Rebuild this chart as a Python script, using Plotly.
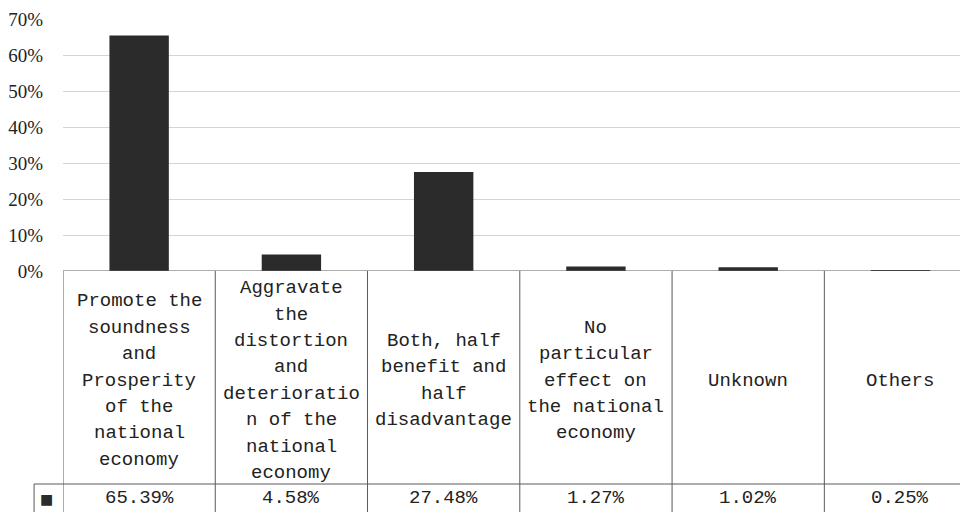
import plotly.graph_objects as go

categories = [
    "Promote the<br>soundness<br>and<br>Prosperity<br>of the<br>national<br>economy",
    "Aggravate<br>the<br>distortion<br>and<br>deterioratio<br>n of the<br>national<br>economy",
    "Both, half<br>benefit and<br>half<br>disadvantage",
    "No<br>particular<br>effect on<br>the national<br>economy",
    "Unknown",
    "Others",
]
values = [65.39, 4.58, 27.48, 1.27, 1.02, 0.25]
value_labels = ["65.39%", "4.58%", "27.48%", "1.27%", "1.02%", "0.25%"]
y_ticks = [0, 10, 20, 30, 40, 50, 60, 70]
y_tick_labels = ["0%", "10%", "20%", "30%", "40%", "50%", "60%", "70%"]

BAR = "#2b2b2b"
LINE = "#5a5a5a"
OFF = 8  # page body margin
W, H = 968, 512
ML, MT = 61 - OFF, 19 - OFF
BOTTOM = 271 - OFF
MB = H - BOTTOM
plot_h = H - MT - MB
plot_w = W - ML
col_w = 152.6
n = len(values)
x_idx = list(range(n))


def py(pix):
    # reference page pixel -> paper y
    return (BOTTOM - (pix - OFF)) / plot_h


def px(pix):
    return (pix - OFF - ML) / plot_w


fig = go.Figure()
fig.add_trace(go.Bar(x=x_idx, y=values, marker=dict(color=BAR, line=dict(width=0)),
                     width=0.39, hoverinfo="skip"))

shapes = []
shapes.append(dict(type="line", xref="paper", yref="y", x0=0, x1=1.02, y0=0, y1=0,
                   line=dict(color=LINE, width=1)))
for i in range(n + 1):
    shapes.append(dict(type="line", xref="x", yref="paper", x0=i - 0.5, x1=i - 0.5,
                       y0=0, y1=py(530), line=dict(color=LINE, width=1)))
shapes.append(dict(type="line", xref="paper", yref="paper", x0=px(32), x1=1.02,
                   y0=py(484), y1=py(484), line=dict(color=LINE, width=1)))
shapes.append(dict(type="line", xref="paper", yref="paper", x0=px(32), x1=px(32),
                   y0=py(484), y1=py(530), line=dict(color=LINE, width=1)))

TXT = dict(family="Liberation Mono", size=19, color="#222222")
LINE_H = 26.4
CENTER = 380.5
annotations = []
for i, (c, v) in enumerate(zip(categories, value_labels)):
    parts = c.split("<br>")
    k = len(parts)
    for j, part in enumerate(parts):
        yc = CENTER + (j - (k - 1) / 2) * LINE_H
        annotations.append(dict(xref="x", yref="paper", x=i, y=py(yc), text=part, showarrow=False,
                                xanchor="center", yanchor="middle", font=TXT))
    annotations.append(dict(xref="x", yref="paper", x=i, y=py(498), text=v, showarrow=False,
                            xanchor="center", yanchor="middle", font=TXT))
annotations.append(dict(xref="paper", yref="paper", x=px(44), y=py(499), text="■", showarrow=False,
                        xanchor="center", yanchor="middle",
                        font=dict(family="DejaVu Sans", size=14, color=BAR)))

fig.update_layout(
    width=W, height=H, autosize=False,
    margin=dict(l=ML, r=0, t=MT, b=MB, pad=0),
    paper_bgcolor="white", plot_bgcolor="white",
    showlegend=False,
    shapes=shapes, annotations=annotations,
    xaxis=dict(range=[-0.5, -0.5 + plot_w / col_w], showticklabels=False, showgrid=False,
               zeroline=False, showline=False, ticks="", fixedrange=True),
    yaxis=dict(range=[0, 70], tickvals=y_ticks, ticktext=y_tick_labels,
               showgrid=True, gridcolor="#d4d4d4", gridwidth=1, zeroline=False,
               showline=False, ticks="outside", ticklen=15, tickcolor="rgba(0,0,0,0)",
               tickfont=dict(family="Liberation Serif", size=19, color="#222222"),
               fixedrange=True),
)

fig.write_html("out.html")
